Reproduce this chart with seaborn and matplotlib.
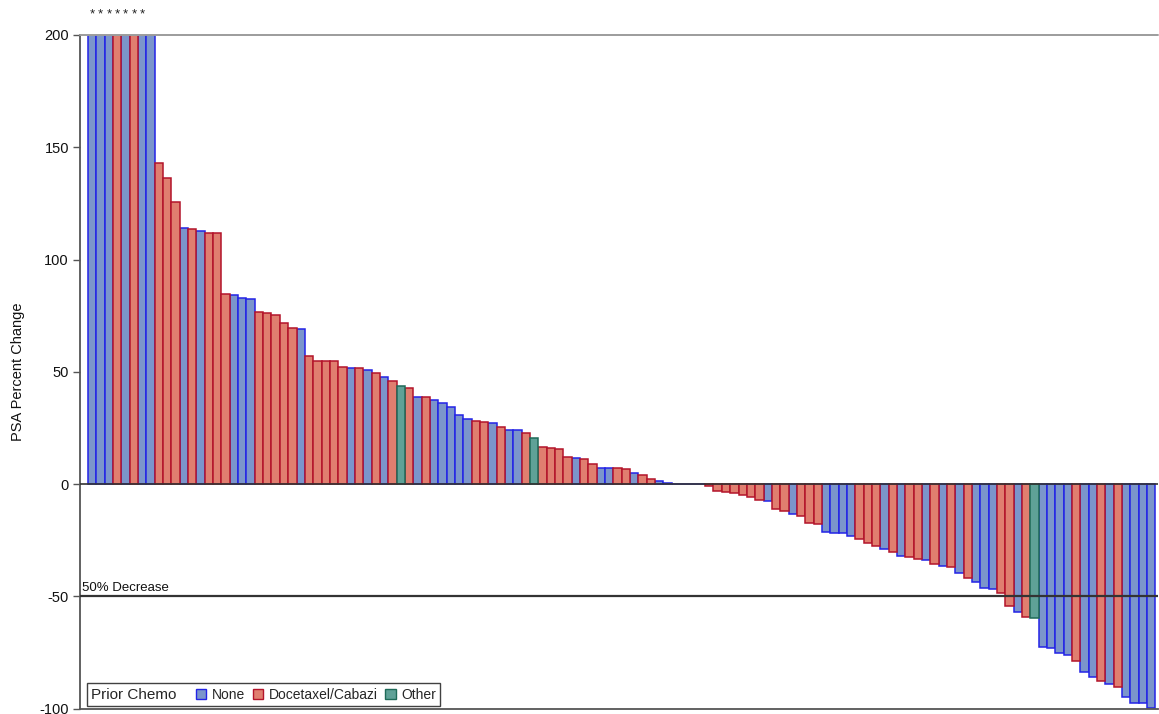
import numpy as np
import pandas as pd
import matplotlib
matplotlib.use("Agg")
import matplotlib.pyplot as plt
import matplotlib.transforms as mtransforms
from matplotlib.patches import Patch
from matplotlib.offsetbox import HPacker
import seaborn as sns

# Best PSA percent change per patient, sorted from largest rise to largest fall
pct_change = [
    512.0, 421.0, 356.0, 310.0, 268.0, 240.0, 214.0, 200.0,
    143.1, 136.2, 125.5, 114.2, 113.6, 112.5, 111.8, 111.7,
    84.6, 84.3, 82.9, 82.3, 76.8, 76.3, 75.4, 71.9, 69.6, 68.9,
    57.0, 54.9, 54.8, 54.6, 52.3, 51.8, 51.5, 50.8, 49.4, 47.5,
    45.9, 43.5, 42.6, 38.9, 38.6, 37.6, 35.9, 34.4, 30.6, 29.1,
    28.1, 27.8, 27.0, 25.4, 24.2, 24.1, 22.7, 20.6, 16.6, 15.9,
    15.6, 12.0, 11.6, 11.3, 8.8, 7.3, 7.2, 7.1, 6.8, 5.0,
    4.1, 2.4, 1.2, 0.5, 0.0, 0.0, 0.0, 0.0,
    -0.9, -3.0, -3.7, -4.2, -4.8, -5.8, -7.3, -7.4, -11.3, -11.9,
    -13.2, -14.4, -17.4, -18.0, -21.4, -21.7, -21.8, -23.3, -24.4, -26.1,
    -27.5, -29.0, -30.5, -31.9, -32.4, -33.3, -34.0, -35.6, -36.4, -36.8,
    -39.8, -42.0, -43.8, -46.5, -46.8, -48.7, -54.3, -57.2, -59.4, -59.7,
    -72.5, -73.2, -75.4, -76.3, -78.7, -83.9, -85.8, -87.9, -89.2, -90.6,
    -94.7, -97.6, -97.7, -99.9,
]

# Prior chemotherapy: N = None, D = Docetaxel/Cabazitaxel, O = Other
prior_chemo_code = list(
    "NNNDNDNN"
    "DDDNDNDD"
    "DNNNDDDDDN"
    "DDDDDNDNDN"
    "DODNDNNNNN"
    "DDNDNNDODD"
    "DDNDDNNDDN"
    "DDNN" "NNNN"
    "DDDDDDDNDD"
    "NDDDNNNNDD"
    "DNDNDDNDNDN"
    "DNNNDDNDON"
    "NNNDNNDND"
    "NNNN"
)

chemo_levels = ["None", "Docetaxel/Cabazi", "Other"]
chemo_names = {"N": "None", "D": "Docetaxel/Cabazi", "O": "Other"}
fill_colors = {"None": "#7b95cb", "Docetaxel/Cabazi": "#e07e6f", "Other": "#5fa197"}
edge_colors = {"None": "#2323e6", "Docetaxel/Cabazi": "#b3142a", "Other": "#1e6a58"}

ytick_values = [-100, -50, 0, 50, 100, 150, 200]
y_top = 200
ref_line_value = -50
ref_line_label = "50% Decrease"

n = len(pct_change)
patient_ids = [f"P{i:03d}" for i in range(n)]
df = pd.DataFrame({
    "patient": patient_ids,
    "pct": pct_change,
    "chemo": [chemo_names[c] for c in prior_chemo_code[:n]],
})

sns.set_theme(style="white")
plt.rcParams["font.family"] = ["Liberation Sans", "DejaVu Sans"]
plt.rcParams["axes.unicode_minus"] = False

W, H = 1159, 714
fig = plt.figure(figsize=(W / 100, H / 100), dpi=100)
ax = fig.add_axes([80 / W, 1 - 708.5 / H, 1078 / W, 673.5 / H])

for level in chemo_levels:
    sub = df[df["chemo"] == level]
    sns.barplot(
        data=sub, x="patient", y="pct", order=patient_ids,
        color=fill_colors[level], edgecolor=edge_colors[level],
        linewidth=1.1, width=1.0, saturation=1, errorbar=None, ax=ax,
    )

ax.set_xlim(-1.46, n - 0.2)
ax.set_ylim(-100, y_top)
ax.set_yticks(ytick_values)
ax.set_xticks([])
ax.set_xlabel("")
ax.set_ylabel("PSA Percent Change", fontsize=10.5, color="#111111", labelpad=10)
ax.tick_params(axis="y", direction="out", length=5, width=1, color="#555555",
               labelsize=10.5, labelcolor="#111111", left=True, pad=3)

for side in ["top", "right"]:
    ax.spines[side].set_visible(False)
for side in ["left", "bottom"]:
    ax.spines[side].set_color("#555555")
    ax.spines[side].set_linewidth(1.3)

# Reference lines
ax.axhline(y_top, color="#9c9c9c", lw=1.4, clip_on=False, zorder=4)
ax.axhline(0, color="#333333", lw=1.2, zorder=4)
ax.axhline(ref_line_value, color="#333333", lw=1.6, zorder=4)
blend = mtransforms.blended_transform_factory(ax.transAxes, ax.transData)
ax.text(0.002, ref_line_value + 0.8, ref_line_label, transform=blend,
        ha="left", va="bottom", fontsize=9.5, color="#111111")

# Asterisks above bars whose value runs past the top of the axis
for i, v in enumerate(pct_change):
    if v > y_top:
        ax.text(i, y_top + 8.0, "*", ha="center", va="baseline",
                fontsize=9.5, color="#222222", clip_on=False)

# Legend with the title placed inline to the left of the entries
handles = [Patch(facecolor=fill_colors[l], edgecolor=edge_colors[l], lw=1) for l in chemo_levels]
leg = ax.legend(handles, chemo_levels, title="Prior Chemo", ncol=3,
                loc="lower left", bbox_to_anchor=(0.0065, 0.004), borderaxespad=0,
                fontsize=10, title_fontsize=11, frameon=True, fancybox=False,
                handlelength=0.75, handleheight=0.75, handletextpad=0.4,
                columnspacing=0.55, borderpad=0.3)
leg.get_frame().set_edgecolor("#111111")
leg.get_frame().set_linewidth(1.0)
fs = leg._fontsize
box = HPacker(pad=leg.borderpad * fs, sep=1.4 * fs, align="center",
              children=[leg._legend_title_box, leg._legend_handle_box])
box.set_figure(fig)
box.axes = ax
box.set_offset(leg._findoffset)
leg._legend_box = box

fig.savefig("out.png", dpi=100, facecolor="white")
